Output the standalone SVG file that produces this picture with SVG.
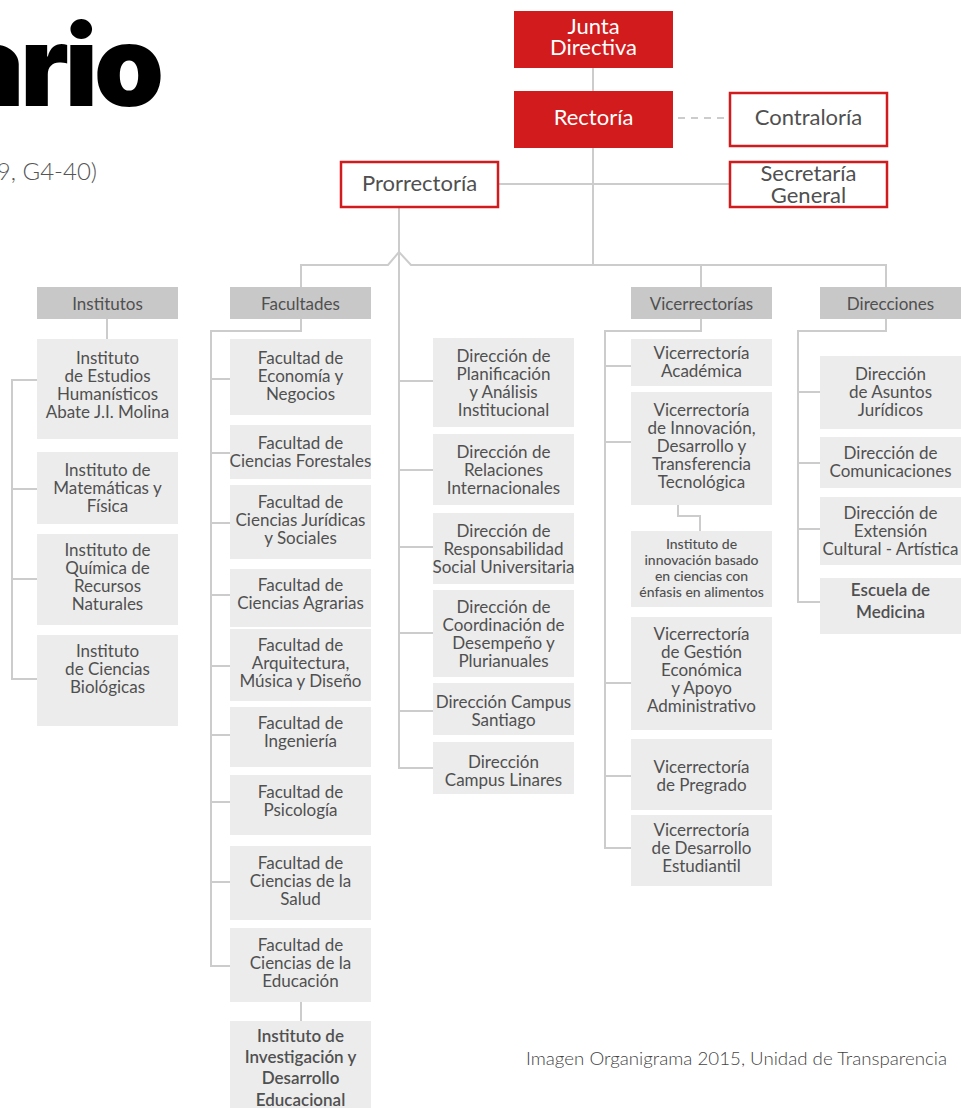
<svg xmlns="http://www.w3.org/2000/svg" width="961" height="1108" viewBox="0 0 961 1108">
<style>
.bg{fill:#fff}
.red{fill:#d11b1c}
.ob{fill:#fff;stroke:#d11b1c;stroke-width:2.5}
.hdr{fill:#c8c8c8}
.box{fill:#ececec}
.t{font-family:Lato,"Liberation Sans",sans-serif;font-size:17px;fill:#505050;text-anchor:middle}
.tw{font-family:Lato,"Liberation Sans",sans-serif;font-size:22px;fill:#fff;text-anchor:middle}
.tb{font-family:Lato,"Liberation Sans",sans-serif;font-size:22px;fill:#505050;text-anchor:middle}
.ts{font-family:Lato,"Liberation Sans",sans-serif;font-size:14px;font-weight:500;fill:#505050;text-anchor:middle}
.tm{font-family:Lato,"Liberation Sans",sans-serif;font-size:17px;font-weight:600;fill:#505050;text-anchor:middle}
.conn path{fill:none;stroke:#cccccc;stroke-width:2}
</style>
<rect class="bg" x="0" y="0" width="961" height="1108"/>

<g id="title">
<text x="160" y="106" font-family="Inter,'Liberation Sans',sans-serif" font-size="112" font-weight="900" letter-spacing="-4" text-anchor="end" fill="#000">ario</text>
<text x="97" y="180" font-family="Lato,'Liberation Sans',sans-serif" font-size="24" font-weight="300" text-anchor="end" fill="#555">9, G4-40)</text>
</g>

<g class="conn" id="connectors">
<path d="M593,67V91"/>
<path d="M593,147V265"/>
<path d="M678,118H729" stroke-dasharray="7,6"/>
<path d="M499,184H729"/>
<path d="M399,207V768H433"/>
<path d="M301,287V265H388L399,252L411,265H886V287"/>
<path d="M701,265V287"/>
<path d="M107,319V339"/>
<path d="M37,380H12V679H37M12,489H37M12,579H37"/>
<path d="M301,319V331H211V966H230M211,379H230M211,453H230M211,523H230M211,595H230M211,666H230M211,735H230M211,802H230M211,882H230"/>
<path d="M301,1002V1021"/>
<path d="M399,381H433M399,470H433M399,547H433M399,633H433M399,711H433"/>
<path d="M701,319V331H605V848H631M605,366H631M605,442H631M605,683H631M605,776H631"/>
<path d="M678,505V516H700V531"/>
<path d="M886,319V331H798V602H820M798,392H820M798,463H820M798,529H820"/>
</g>

<g id="junta"><rect class="red" x="514" y="11" width="159" height="57"/><text class="tw"><tspan x="593.5" y="34">Junta</tspan><tspan x="593.5" y="55">Directiva</tspan></text></g>
<g id="rectoria"><rect class="red" x="514" y="91" width="159" height="57"/><text class="tw" x="593.5" y="125">Rectoría</text></g>
<g id="contraloria"><rect class="ob" x="730" y="93" width="157" height="53"/><text class="tb" x="808.5" y="125">Contraloría</text></g>
<g id="secretaria"><rect class="ob" x="730" y="162" width="157" height="45"/><text class="tb"><tspan x="808.5" y="181">Secretaría</tspan><tspan x="808.5" y="203">General</tspan></text></g>
<g id="prorrectoria"><rect class="ob" x="341" y="162" width="157" height="45"/><text class="tb" x="419.5" y="191">Prorrectoría</text></g>

<g id="institutos"><rect class="hdr" x="37" y="287" width="141" height="32"/><text class="t" x="107.5" y="310">Institutos</text></g>
<g id="inst1"><rect class="box" x="37" y="339" width="141" height="100"/><text class="t"><tspan x="107.5" y="364">Instituto</tspan><tspan x="107.5" y="382">de Estudios</tspan><tspan x="107.5" y="400">Humanísticos</tspan><tspan x="107.5" y="418">Abate J.I. Molina</tspan></text></g>
<g id="inst2"><rect class="box" x="37" y="452" width="141" height="72"/><text class="t"><tspan x="107.5" y="476">Instituto de</tspan><tspan x="107.5" y="494">Matemáticas y</tspan><tspan x="107.5" y="512">Física</tspan></text></g>
<g id="inst3"><rect class="box" x="37" y="534" width="141" height="91"/><text class="t"><tspan x="107.5" y="556">Instituto de</tspan><tspan x="107.5" y="574">Química de</tspan><tspan x="107.5" y="592">Recursos</tspan><tspan x="107.5" y="610">Naturales</tspan></text></g>
<g id="inst4"><rect class="box" x="37" y="635" width="141" height="91"/><text class="t"><tspan x="107.5" y="657">Instituto</tspan><tspan x="107.5" y="675">de Ciencias</tspan><tspan x="107.5" y="693">Biológicas</tspan></text></g>

<g id="facultades"><rect class="hdr" x="230" y="287" width="141" height="32"/><text class="t" x="300.5" y="310">Facultades</text></g>
<g id="fac1"><rect class="box" x="230" y="339" width="141" height="76"/><text class="t"><tspan x="300.5" y="364">Facultad de</tspan><tspan x="300.5" y="382">Economía y</tspan><tspan x="300.5" y="400">Negocios</tspan></text></g>
<g id="fac2"><rect class="box" x="230" y="425" width="141" height="54"/><text class="t"><tspan x="300.5" y="449">Facultad de</tspan><tspan x="300.5" y="467">Ciencias Forestales</tspan></text></g>
<g id="fac3"><rect class="box" x="230" y="485" width="141" height="74"/><text class="t"><tspan x="300.5" y="508">Facultad de</tspan><tspan x="300.5" y="526">Ciencias Jurídicas</tspan><tspan x="300.5" y="544">y Sociales</tspan></text></g>
<g id="fac4"><rect class="box" x="230" y="569" width="141" height="58"/><text class="t"><tspan x="300.5" y="591">Facultad de</tspan><tspan x="300.5" y="609">Ciencias Agrarias</tspan></text></g>
<g id="fac5"><rect class="box" x="230" y="629" width="141" height="72"/><text class="t"><tspan x="300.5" y="651">Facultad de</tspan><tspan x="300.5" y="669">Arquitectura,</tspan><tspan x="300.5" y="687">Música y Diseño</tspan></text></g>
<g id="fac6"><rect class="box" x="230" y="707" width="141" height="60"/><text class="t"><tspan x="300.5" y="729">Facultad de</tspan><tspan x="300.5" y="747">Ingeniería</tspan></text></g>
<g id="fac7"><rect class="box" x="230" y="775" width="141" height="60"/><text class="t"><tspan x="300.5" y="798">Facultad de</tspan><tspan x="300.5" y="816">Psicología</tspan></text></g>
<g id="fac8"><rect class="box" x="230" y="846" width="141" height="74"/><text class="t"><tspan x="300.5" y="869">Facultad de</tspan><tspan x="300.5" y="887">Ciencias de la</tspan><tspan x="300.5" y="905">Salud</tspan></text></g>
<g id="fac9"><rect class="box" x="230" y="928" width="141" height="74"/><text class="t"><tspan x="300.5" y="951">Facultad de</tspan><tspan x="300.5" y="969">Ciencias de la</tspan><tspan x="300.5" y="987">Educación</tspan></text></g>
<g id="instinv"><rect class="box" x="230" y="1021" width="141" height="90"/><text class="tm"><tspan x="300.5" y="1042">Instituto de</tspan><tspan x="300.5" y="1063">Investigación y</tspan><tspan x="300.5" y="1084">Desarrollo</tspan><tspan x="300.5" y="1106">Educacional</tspan></text></g>

<g id="dir1"><rect class="box" x="433" y="338" width="141" height="89"/><text class="t"><tspan x="503.5" y="362">Dirección de</tspan><tspan x="503.5" y="380">Planificación</tspan><tspan x="503.5" y="398">y Análisis</tspan><tspan x="503.5" y="416">Institucional</tspan></text></g>
<g id="dir2"><rect class="box" x="433" y="434" width="141" height="71"/><text class="t"><tspan x="503.5" y="458">Dirección de</tspan><tspan x="503.5" y="476">Relaciones</tspan><tspan x="503.5" y="494">Internacionales</tspan></text></g>
<g id="dir3"><rect class="box" x="433" y="513" width="141" height="71"/><text class="t"><tspan x="503.5" y="537">Dirección de</tspan><tspan x="503.5" y="555">Responsabilidad</tspan><tspan x="503.5" y="573">Social Universitaria</tspan></text></g>
<g id="dir4"><rect class="box" x="433" y="590" width="141" height="87"/><text class="t"><tspan x="503.5" y="613">Dirección de</tspan><tspan x="503.5" y="631">Coordinación de</tspan><tspan x="503.5" y="649">Desempeño y</tspan><tspan x="503.5" y="667">Plurianuales</tspan></text></g>
<g id="dir5"><rect class="box" x="433" y="683" width="141" height="52"/><text class="t"><tspan x="503.5" y="708">Dirección Campus</tspan><tspan x="503.5" y="726">Santiago</tspan></text></g>
<g id="dir6"><rect class="box" x="433" y="742" width="141" height="52"/><text class="t"><tspan x="503.5" y="768">Dirección</tspan><tspan x="503.5" y="786">Campus Linares</tspan></text></g>

<g id="vicerrectorias"><rect class="hdr" x="631" y="287" width="141" height="32"/><text class="t" x="701.5" y="310">Vicerrectorías</text></g>
<g id="vice1"><rect class="box" x="631" y="339" width="141" height="47"/><text class="t"><tspan x="701.5" y="359">Vicerrectoría</tspan><tspan x="701.5" y="377">Académica</tspan></text></g>
<g id="vice2"><rect class="box" x="631" y="392" width="141" height="113"/><text class="t"><tspan x="701.5" y="416">Vicerrectoría</tspan><tspan x="701.5" y="434">de Innovación,</tspan><tspan x="701.5" y="452">Desarrollo y</tspan><tspan x="701.5" y="470">Transferencia</tspan><tspan x="701.5" y="488">Tecnológica</tspan></text></g>
<g id="instinnov"><rect class="box" x="631" y="531" width="141" height="76"/><text class="ts"><tspan x="701.5" y="549">Instituto de</tspan><tspan x="701.5" y="565">innovación basado</tspan><tspan x="701.5" y="581">en ciencias con</tspan><tspan x="701.5" y="597">énfasis en alimentos</tspan></text></g>
<g id="vice3"><rect class="box" x="631" y="617" width="141" height="113"/><text class="t"><tspan x="701.5" y="640">Vicerrectoría</tspan><tspan x="701.5" y="658">de Gestión</tspan><tspan x="701.5" y="676">Económica</tspan><tspan x="701.5" y="694">y Apoyo</tspan><tspan x="701.5" y="712">Administrativo</tspan></text></g>
<g id="vice4"><rect class="box" x="631" y="739" width="141" height="71"/><text class="t"><tspan x="701.5" y="773">Vicerrectoría</tspan><tspan x="701.5" y="791">de Pregrado</tspan></text></g>
<g id="vice5"><rect class="box" x="631" y="815" width="141" height="71"/><text class="t"><tspan x="701.5" y="836">Vicerrectoría</tspan><tspan x="701.5" y="854">de Desarrollo</tspan><tspan x="701.5" y="872">Estudiantil</tspan></text></g>

<g id="direcciones"><rect class="hdr" x="820" y="287" width="141" height="32"/><text class="t" x="890.5" y="310">Direcciones</text></g>
<g id="dirx1"><rect class="box" x="820" y="356" width="141" height="73"/><text class="t"><tspan x="890.5" y="380">Dirección</tspan><tspan x="890.5" y="398">de Asuntos</tspan><tspan x="890.5" y="416">Jurídicos</tspan></text></g>
<g id="dirx2"><rect class="box" x="820" y="437" width="141" height="51"/><text class="t"><tspan x="890.5" y="459">Dirección de</tspan><tspan x="890.5" y="477">Comunicaciones</tspan></text></g>
<g id="dirx3"><rect class="box" x="820" y="497" width="141" height="68"/><text class="t"><tspan x="890.5" y="519">Dirección de</tspan><tspan x="890.5" y="537">Extensión</tspan><tspan x="890.5" y="555">Cultural - Artística</tspan></text></g>
<g id="dirx4"><rect class="box" x="820" y="578" width="141" height="56"/><text class="tm" font-size="18"><tspan x="890.5" y="596">Escuela de</tspan><tspan x="890.5" y="618">Medicina</tspan></text></g>

<g id="caption"><text x="526" y="1065" font-family="Lato,'Liberation Sans',sans-serif" font-size="18" font-weight="300" fill="#444" textLength="421" lengthAdjust="spacingAndGlyphs">Imagen Organigrama 2015, Unidad de Transparencia</text></g>
</svg>
